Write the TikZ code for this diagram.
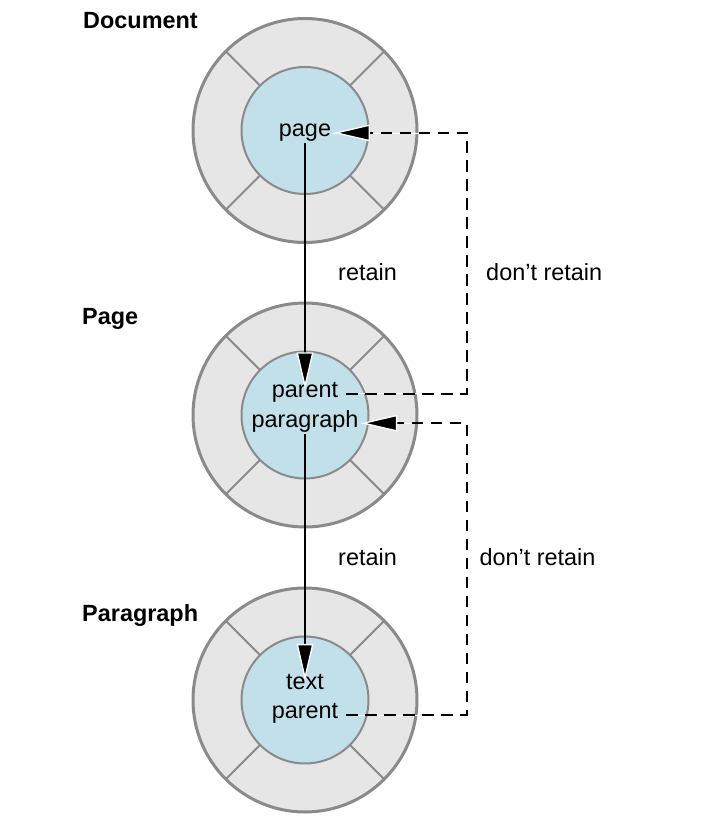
\documentclass[tikz,border=0pt]{standalone}
\usepackage{fontspec}
\setmainfont{Liberation Sans}
\usetikzlibrary{calc, arrows.meta}

\definecolor{ring gray}{RGB}{230,230,230}
\definecolor{edge gray}{RGB}{138,138,138}
\definecolor{core blue}{RGB}{194,224,234}

\tikzset{
	level/.style={font=\fontsize{20}{24}\selectfont\bfseries, anchor=base west, inner sep=0},
	note/.style={anchor=base west, inner sep=0},
	entry/.style={anchor=base, text height=0.95em, text depth=0.25em, inner xsep=2.4mm, inner ysep=1mm},
	retain head/.style={-{Triangle[length=11mm, width=5mm, color=white, fill=black, line width=0.4mm]}, shorten >=-1.8mm},
	retain/.style={retain head, line width=0.6mm},
	dont retain/.style={retain head, line width=0.6mm, dash pattern=on 3.5mm off 2.2mm, preaction={draw=white, solid, -}}
}

\begin{document}
\begin{tikzpicture}[x=0.3mm, y=0.3mm, font=\fontsize{20}{24}\selectfont]
		\def\outer{112};
		\def\inner{63.5};
		
		\useasboundingbox (0,0) rectangle (716,822);
		
		\coordinate (document) at (305,691.5);
		\coordinate (page) at (305,407);
		\coordinate (paragraph) at (305,122);
		\coordinate (detour) at (467,0);
		
		\foreach \c in {document, page, paragraph} {
			\draw [edge gray, fill=ring gray, line width=0.9mm] (\c) circle (\outer);
			\foreach \a in {45, 135, 225, 315}
				\draw [edge gray, line width=0.6mm] ($(\c) + (\a:\inner)$) -- ($(\c) + (\a:\outer)$);
			\draw [edge gray, fill=core blue, line width=0.6mm] (\c) circle (\inner);
		}
		
		\node [level] (document title) at (83,793.7) {Document};
		\node [level] (page title) at (82,497.7) {Page};
		\node [level] (paragraph title) at (82,200.7) {Paragraph};
		
		\node [entry] (doc page) at (305,685) {page};
		\node [entry] (page parent) at (305,424.3) {parent};
		\node [entry] (page paragraph) at (305,394.7) {paragraph};
		\node [entry] (para text) at (305,132.7) {text};
		\node [entry] (para parent) at (305,103) {parent};
		
		\draw [retain] (doc page) -- (page parent);
		\draw [retain] (page paragraph) -- (para text);
		
		\draw [dont retain] (page parent.east) -- (page parent.east -| detour) |- (doc page.east);
		\draw [dont retain] (para parent.east) -- (para parent.east -| detour) |- (page paragraph.east);
		
		\node [note] (retain upper) at (338,541) {retain};
		\node [note] (skip upper) at (486,541) {don't retain};
		\node [note] (retain lower) at (338,256) {retain};
		\node [note] (skip lower) at (479.3,256) {don't retain};
	\end{tikzpicture}
\end{document}
